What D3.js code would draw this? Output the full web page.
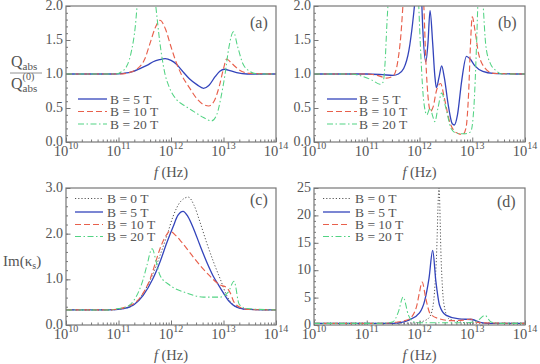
<!DOCTYPE html>
<html>
<head>
<meta charset="utf-8">
<script src="https://cdn.jsdelivr.net/npm/d3@7"></script>
<style>
  body { margin: 0; background: #fff; }
  svg { display: block; }
  text { font-family: "Liberation Serif", "Times New Roman", serif; fill: #555; }
</style>
</head>
<body>
<svg id="chart" width="540" height="364"></svg>
<script>
// ---------- data (x = log10 f, y = value) ----------
var decades = [10, 11, 12, 13, 14];
var qTicks = [0, 0.5, 1, 1.5, 2];
var cTicks = [0, 1, 2, 3];
var dTicks = [0, 5, 10, 15, 20, 25];
var legend3 = ["B = 5 T", "B = 10 T", "B = 20 T"];
var legend4 = ["B = 0 T", "B = 5 T", "B = 10 T", "B = 20 T"];

// (a) Q_abs / Q_abs(0), smooth
var qa5 = [[10,1],[10.9,1],[11.1,1.01],[11.25,1.03],[11.41,1.08],[11.55,1.13],[11.66,1.18],[11.78,1.21],[11.89,1.225],[12.0,1.2],[12.11,1.14],[12.22,1.04],[12.35,0.93],[12.5,0.84],[12.62,0.79],[12.72,0.83],[12.84,0.96],[12.93,1.04],[13.02,1.07],[13.12,1.05],[13.25,1.02],[13.45,1.0],[14,1]];
var qa10 = [[10,1],[11.0,1],[11.2,1.02],[11.35,1.07],[11.5,1.22],[11.6,1.45],[11.7,1.68],[11.79,1.79],[11.9,1.65],[12.0,1.4],[12.1,1.17],[12.2,0.99],[12.35,0.8],[12.5,0.63],[12.62,0.55],[12.72,0.53],[12.82,0.6],[12.92,0.82],[13.0,1.08],[13.06,1.22],[13.15,1.16],[13.3,1.06],[13.5,1.01],[14,1]];
var qa20 = [[10,1],[10.95,1],[11.05,1.03],[11.16,1.12],[11.25,1.35],[11.32,1.7],[11.36,2.05],[11.45,2.6],[11.55,2.8],[11.65,2.4],[11.71,2.0],[11.79,1.45],[11.88,1.02],[11.97,0.8],[12.11,0.62],[12.27,0.53],[12.43,0.45],[12.62,0.36],[12.77,0.31],[12.87,0.4],[12.95,0.65],[13.03,1.0],[13.1,1.38],[13.19,1.62],[13.27,1.4],[13.37,1.15],[13.5,1.04],[13.65,1.0],[14,1]];

// (b) Q_abs / Q_abs(0), resonant
var qb5 = [[10,1],[11.0,1],[11.3,0.99],[11.5,0.98],[11.6,1.0],[11.7,1.08],[11.8,1.35],[11.87,1.75],[11.91,2.05],[11.98,2.8],[12.03,2.3],[12.06,1.7],[12.12,1.18],[12.16,1.45],[12.2,1.93],[12.25,1.45],[12.29,0.98],[12.32,0.8],[12.37,0.95],[12.42,1.12],[12.47,0.95],[12.55,0.52],[12.62,0.27],[12.66,0.25],[12.72,0.4],[12.8,0.9],[12.89,1.26],[12.96,1.22],[13.05,1.12],[13.2,1.04],[13.4,1.01],[14,1]];
var qb10 = [[10,1],[11.0,1],[11.2,0.98],[11.38,0.94],[11.5,0.97],[11.58,1.15],[11.65,1.6],[11.69,2.05],[11.8,3],[12.0,3],[12.08,2.05],[12.12,1.2],[12.17,0.6],[12.21,0.45],[12.26,0.52],[12.32,0.75],[12.4,0.86],[12.47,0.65],[12.56,0.33],[12.65,0.17],[12.75,0.12],[12.82,0.11],[12.88,0.2],[12.93,0.7],[12.97,1.5],[13.0,1.84],[13.05,1.65],[13.12,1.3],[13.25,1.08],[13.4,1.01],[14,1]];
var qb20 = [[10,1],[10.7,1],[10.9,0.97],[11.1,0.91],[11.25,0.85],[11.31,0.88],[11.35,1.2],[11.38,1.7],[11.41,2.1],[11.6,3],[11.92,3],[11.98,2.1],[12.03,1.2],[12.08,0.6],[12.14,0.4],[12.2,0.5],[12.25,0.38],[12.29,0.3],[12.35,0.5],[12.42,0.72],[12.5,0.5],[12.6,0.2],[12.7,0.13],[12.85,0.12],[12.97,0.15],[13.03,0.5],[13.08,1.4],[13.11,2.1],[13.16,2.6],[13.2,2.1],[13.26,1.4],[13.34,1.16],[13.45,1.05],[13.56,1.0],[14,1]];

// (c) Im(kappa_s), smooth
var kc0 = [[10,0.33],[10.8,0.33],[11.1,0.36],[11.3,0.45],[11.47,0.7],[11.65,1.1],[11.79,1.52],[11.92,1.95],[12.04,2.38],[12.18,2.7],[12.33,2.8],[12.44,2.62],[12.55,2.26],[12.68,1.8],[12.81,1.38],[12.94,1.0],[13.06,0.65],[13.25,0.39],[13.45,0.34],[14,0.33]];
var kc5 = [[10,0.33],[10.8,0.33],[11.1,0.36],[11.3,0.45],[11.47,0.65],[11.65,1.0],[11.79,1.38],[11.92,1.8],[12.04,2.15],[12.13,2.4],[12.23,2.49],[12.32,2.38],[12.43,2.11],[12.55,1.75],[12.68,1.38],[12.8,1.08],[12.93,0.83],[13.12,0.5],[13.3,0.37],[13.5,0.34],[14,0.33]];
var kc10 = [[10,0.33],[10.8,0.33],[11.0,0.35],[11.2,0.42],[11.35,0.52],[11.48,0.72],[11.6,1.0],[11.7,1.35],[11.79,1.67],[11.9,1.95],[11.98,2.05],[12.1,1.95],[12.2,1.82],[12.35,1.6],[12.45,1.45],[12.7,1.12],[12.93,0.88],[13.06,0.82],[13.13,0.7],[13.2,0.5],[13.35,0.37],[13.5,0.34],[14,0.33]];
var kc20 = [[10,0.33],[10.8,0.33],[11.0,0.36],[11.16,0.4],[11.28,0.52],[11.38,0.72],[11.47,1.0],[11.54,1.3],[11.64,1.67],[11.72,1.38],[11.79,1.09],[11.98,0.87],[12.3,0.7],[12.62,0.61],[12.93,0.61],[13.09,0.72],[13.2,0.96],[13.3,0.45],[13.45,0.36],[14,0.33]];

// (d) Im(kappa_s), resonant
var kd0 = [[10,0.3],[11.5,0.3],[11.9,0.4],[12.1,0.8],[12.2,1.6],[12.27,4.5],[12.32,12],[12.37,25],[12.41,12],[12.46,4],[12.55,1.2],[12.8,0.5],[13.0,0.35],[14,0.3]];
var kd5 = [[10,0.3],[11.4,0.3],[11.6,0.4],[11.8,0.9],[12.0,2.2],[12.1,4.5],[12.18,8.5],[12.25,13.6],[12.31,8],[12.38,3.6],[12.5,1.8],[12.75,1.1],[13.0,1.0],[13.15,0.5],[13.3,0.3],[14,0.3]];
var kd10 = [[10,0.3],[11.3,0.3],[11.55,0.5],[11.72,0.8],[11.82,1.2],[11.95,3.6],[12.0,6],[12.05,7.85],[12.12,4.8],[12.2,2.1],[12.35,1.2],[12.6,0.8],[12.85,0.9],[12.97,1.1],[13.05,0.6],[13.2,0.4],[14,0.3]];
var kd20 = [[10,0.3],[11.2,0.3],[11.4,0.4],[11.5,0.6],[11.6,2.4],[11.69,5.1],[11.79,1.8],[11.88,0.6],[12.0,0.4],[12.9,0.4],[13.1,0.8],[13.24,1.77],[13.35,0.6],[13.5,0.3],[14,0.3]];

// ---------- styles ----------
var styles = {
  0:  {color: "#555555", dash: "1.2,2",         width: 1.0},
  5:  {color: "#3344bb", dash: null,            width: 1.3},
  10: {color: "#e8604c", dash: "6,3",           width: 1.15},
  20: {color: "#52d383", dash: "6,2.5,1.5,2.5", width: 1.05}
};

var svg = d3.select("#chart");

/**
* drawPanel
* [Draws one framed panel with log x axis, linear y axis,
series lines, legend and panel tag]
**/
function drawPanel(p) {
  var x = d3.scaleLog().domain([1e10, 1e14]).range([p.left, p.right]);
  var y = d3.scaleLinear().domain([0, p.yMax]).range([p.bottom, p.top]);

  var g = svg.append("g");

  // clip so off-scale resonances get cut at the frame
  svg.append("clipPath").attr("id", "clip-" + p.id)
    .append("rect")
    .attr("x", p.left).attr("y", p.top)
    .attr("width", p.right - p.left).attr("height", p.bottom - p.top);

  // minor x ticks (inside)
  var minors = [];
  decades.slice(0, -1).forEach(function(d) {
    for (var k = 2; k <= 9; k++) minors.push(k * Math.pow(10, d));
  });
  g.append("g")
    .attr("transform", "translate(0," + p.bottom + ")")
    .call(d3.axisBottom(x).tickValues(minors).tickSize(-2.5).tickFormat("").tickSizeOuter(0))
    .call(function(a) { a.select(".domain").remove(); a.selectAll("line").attr("stroke", "#777"); });
  g.append("g")
    .attr("transform", "translate(0," + p.bottom + ")")
    .call(d3.axisBottom(x).tickValues(decades.map(function(d) { return Math.pow(10, d); }))
      .tickSize(-4.5).tickFormat("").tickSizeOuter(0))
    .call(function(a) { a.select(".domain").remove(); a.selectAll("line").attr("stroke", "#777"); });

  // minor and major y ticks (inside)
  g.append("g")
    .attr("transform", "translate(" + p.left + ",0)")
    .call(d3.axisLeft(y).tickValues(d3.range(0, p.yMax + 1e-9, p.yMinor)).tickSize(-2).tickFormat("").tickSizeOuter(0))
    .call(function(a) { a.select(".domain").remove(); a.selectAll("line").attr("stroke", "#777"); });
  g.append("g")
    .attr("transform", "translate(" + p.left + ",0)")
    .call(d3.axisLeft(y).tickValues(p.yTicks).tickSize(-4.5).tickFormat("").tickSizeOuter(0))
    .call(function(a) { a.select(".domain").remove(); a.selectAll("line").attr("stroke", "#777"); });

  // y tick labels
  g.selectAll(".ylab")
    .data(p.yTicks)
    .enter()
    .append("text")
    .attr("x", p.left - 3)
    .attr("y", function(d) { return y(d) + 4; })
    .attr("text-anchor", "end")
    .style("font-size", "14px")
    .text(function(d) { return p.yFmt(d); });

  // x tick labels: 10 with superscript exponent
  var xl = g.selectAll(".xlab")
    .data(decades)
    .enter()
    .append("text")
    .attr("x", function(d) { return x(Math.pow(10, d)); })
    .attr("y", p.bottom + 14)
    .attr("text-anchor", "middle")
    .style("font-size", "14.5px");
  xl.append("tspan").text("10");
  xl.append("tspan").attr("dy", -7).style("font-size", "10px").text(function(d) { return d; });

  // x axis title
  var xt = g.append("text")
    .attr("x", (p.left + p.right) / 2)
    .attr("y", p.bottom + 35)
    .attr("text-anchor", "middle")
    .style("font-size", "14.5px");
  xt.append("tspan").style("font-style", "italic").text("f");
  xt.append("tspan").text("  (Hz)");

  // series
  var line = d3.line()
    .x(function(d) { return x(Math.pow(10, d[0])); })
    .y(function(d) { return y(d[1]); })
    .curve(d3.curveMonotoneX);

  var lines = g.append("g").attr("clip-path", "url(#clip-" + p.id + ")");
  p.series.forEach(function(s) {
    var st = styles[s.b];
    lines.append("path")
      .datum(s.data)
      .attr("d", line)
      .attr("fill", "none")
      .attr("stroke", st.color)
      .attr("stroke-width", st.width)
      .attr("stroke-dasharray", st.dash);
  });

  // frame
  g.append("rect")
    .attr("x", p.left).attr("y", p.top)
    .attr("width", p.right - p.left).attr("height", p.bottom - p.top)
    .attr("fill", "none").attr("stroke", "#777").attr("stroke-width", 1.2);

  // legend
  p.series.forEach(function(s, i) {
    var st = styles[s.b];
    var ly = p.legend.ys[i];
    g.append("line")
      .attr("x1", p.legend.x1).attr("x2", p.legend.x2)
      .attr("y1", ly).attr("y2", ly)
      .attr("stroke", st.color)
      .attr("stroke-width", st.width)
      .attr("stroke-dasharray", st.dash);
    g.append("text")
      .attr("x", p.legend.tx)
      .attr("y", ly + 4.5)
      .style("font-size", "13.5px")
      .text(p.legend.labels[i]);
  });

  // panel tag
  g.append("text")
    .attr("x", p.tagX).attr("y", p.tagY)
    .style("font-size", "16px")
    .text(p.tag);
}

var fmt1 = d3.format(".1f");
var fmt0 = d3.format("d");

drawPanel({id: "a", left: 66, right: 276, top: 6, bottom: 142, yMax: 2, yMinor: 0.1,
  yTicks: qTicks, yFmt: fmt1,
  series: [{b: 5, data: qa5}, {b: 10, data: qa10}, {b: 20, data: qa20}],
  legend: {x1: 78, x2: 107, tx: 110, ys: [99, 111.5, 124], labels: legend3},
  tag: "(a)", tagX: 250, tagY: 28});

drawPanel({id: "b", left: 314, right: 525, top: 6, bottom: 142, yMax: 2, yMinor: 0.1,
  yTicks: qTicks, yFmt: fmt1,
  series: [{b: 5, data: qb5}, {b: 10, data: qb10}, {b: 20, data: qb20}],
  legend: {x1: 327, x2: 357, tx: 359, ys: [99, 111.5, 124], labels: legend3},
  tag: "(b)", tagX: 498, tagY: 28});

drawPanel({id: "c", left: 66, right: 276, top: 188, bottom: 325, yMax: 3, yMinor: 0.2,
  yTicks: cTicks, yFmt: fmt1,
  series: [{b: 0, data: kc0}, {b: 5, data: kc5}, {b: 10, data: kc10}, {b: 20, data: kc20}],
  legend: {x1: 75, x2: 103, tx: 107, ys: [198.5, 212, 224.5, 236.5], labels: legend4},
  tag: "(c)", tagX: 250, tagY: 205});

drawPanel({id: "d", left: 314, right: 525, top: 188, bottom: 325, yMax: 25, yMinor: 1,
  yTicks: dTicks, yFmt: fmt0,
  series: [{b: 0, data: kd0}, {b: 5, data: kd5}, {b: 10, data: kd10}, {b: 20, data: kd20}],
  legend: {x1: 323, x2: 350, tx: 355, ys: [198.5, 212, 224.5, 236.5], labels: legend4},
  tag: "(d)", tagX: 497, tagY: 207});

// y-axis titles
var qNum = svg.append("text").attr("x", 11).attr("y", 67).style("font-size", "16px");
qNum.append("tspan").text("Q");
qNum.append("tspan").attr("dy", 3).style("font-size", "11px").text("abs");

svg.append("line")
  .attr("x1", 10).attr("x2", 42).attr("y1", 73).attr("y2", 73)
  .attr("stroke", "#777").attr("stroke-width", 0.8);

var qDen = svg.append("text").attr("x", 11).attr("y", 89).style("font-size", "16px");
qDen.append("tspan").text("Q");
qDen.append("tspan").attr("dy", -9).style("font-size", "10px").text("(0)");
qDen.append("tspan").attr("x", 22.5).attr("dy", 12).style("font-size", "11px").text("abs");

var imLab = svg.append("text").attr("x", 3).attr("y", 266).style("font-size", "15px");
imLab.append("tspan").text("Im(");
imLab.append("tspan").text("κ");
imLab.append("tspan").attr("dy", 3).style("font-size", "10px").text("s");
imLab.append("tspan").attr("dy", -3).text(")");
</script>
</body>
</html>
